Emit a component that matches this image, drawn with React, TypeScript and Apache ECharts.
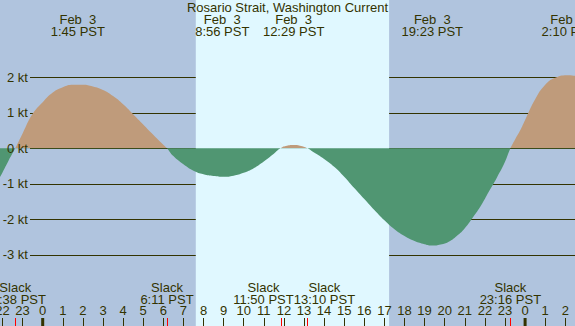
import React, { useEffect, useRef } from "react";
import * as echarts from "echarts";

// ---- data ----
const title = "Rosario Strait, Washington Current";

// hours relative to Feb 3 00:00 PST, current speed in knots (+ flood, - ebb)
const hours = [
  -2.2, -2.0, -1.7, -1.37, -1.0, -0.5, 0.0, 0.5, 1.0, 1.5, 2.0, 2.5, 3.0, 3.5,
  4.0, 4.5, 5.0, 5.5, 6.0, 6.18, 6.5, 7.0, 7.5, 8.0, 8.5, 9.0, 9.5, 10.0, 10.5,
  11.0, 11.5, 11.83, 12.15, 12.48, 12.8, 13.17, 13.5, 14.0, 14.5, 15.0, 15.5,
  16.0, 16.5, 17.0, 17.5, 18.0, 18.5, 19.0, 19.38, 19.8, 20.2, 20.6, 21.0, 21.4,
  21.8, 22.2, 22.6, 23.0, 23.27, 23.5, 23.75, 24.0, 24.5, 25.0, 25.5, 26.17, 26.6,
];
const speeds = [
  -0.88, -0.68, -0.35, 0.0, 0.42, 0.97, 1.3, 1.57, 1.72, 1.79, 1.79, 1.74, 1.64,
  1.47, 1.24, 0.96, 0.67, 0.38, 0.1, 0.0, -0.22, -0.45, -0.63, -0.73, -0.78,
  -0.8, -0.77, -0.69, -0.56, -0.37, -0.15, 0.0, 0.07, 0.09, 0.07, 0.0, -0.12,
  -0.3, -0.52, -0.8, -1.12, -1.43, -1.74, -2.03, -2.28, -2.47, -2.61, -2.7,
  -2.74, -2.71, -2.63, -2.47, -2.25, -1.95, -1.62, -1.22, -0.82, -0.38, 0.0,
  0.25, 0.5, 0.8, 1.38, 1.79, 1.99, 2.06, 2.03,
];

// max / min current events (top labels)
const eventDays = [0, 0, 0, 0, 1];
const eventTimes = ["1:45", "8:56", "12:29", "19:23", "2:10"];
const eventDates = ["Feb  3", "Feb  3", "Feb  3", "Feb  3", "Feb  4"];

// slack water events (bottom labels)
const slackDays = [-1, 0, 0, 0, 0];
const slackTimes = ["22:38", "6:11", "11:50", "13:10", "23:16"];

// daylight (sunrise / sunset) and midnights
const sunriseTime = "7:37";
const sunsetTime = "17:14";
const midnights = [0, 24];

const kMin = -3;
const kMax = 2;
const hourMin = -3;
const hourMax = 27;

// ---- styles ----
const NIGHT = "#b0c4de";
const DAY = "#e0f8ff";
const BROWN = "#bf9b7b";
const GREEN = "#509672";
const INK = "#333300";
const FONT = "Liberation Sans";
const FS = 13;

const toHours = (t: string, day = 0) => {
  const [h, m] = t.split(":").map(Number);
  return day * 24 + h + m / 60;
};

const measure = (() => {
  const c = document.createElement("canvas").getContext("2d")!;
  c.font = `${FS}px "${FONT}"`;
  return (s: string) => c.measureText(s).width;
})();

// push apart label centres so that neighbouring labels do not overlap
const spread = (centres: number[], widths: number[]) => {
  const out = centres.slice();
  for (let pass = 0; pass < 5; pass++) {
    for (let i = 0; i + 1 < out.length; i++) {
      const need = (widths[i] + widths[i + 1]) / 2;
      const gap = out[i + 1] - out[i];
      if (gap < need) {
        const d = (need - gap) / 2;
        out[i] -= d;
        out[i + 1] += d;
      }
    }
  }
  return out;
};

export default function App() {
  const ref = useRef<HTMLDivElement>(null);
  useEffect(() => {
    document.body.style.margin = "0";
    const chart = echarts.init(ref.current!, null, { renderer: "svg" });
    const gL = -17.6;
    const gR = -10.4;
    const pTop = 77.3;
    const pBot = 71.2;
    const hiddenX = (gi: number) => ({
      type: "value",
      gridIndex: gi,
      min: hourMin,
      max: hourMax,
      show: false,
    });
    const gridBase = { outerBoundsMode: "none", containLabel: false };
    chart.setOption({
      animation: false,
      backgroundColor: NIGHT,
      grid: [
        { ...gridBase, left: gL, right: gR, top: 0, bottom: 0 },
        { ...gridBase, left: gL, right: gR, top: pTop, bottom: pBot },
        { ...gridBase, left: 30, right: 0, top: pTop, bottom: pBot },
        { ...gridBase, left: 30, right: 0, top: pTop, bottom: pBot },
      ],
      xAxis: [
        {
          type: "value",
          gridIndex: 0,
          min: hourMin,
          max: hourMax,
          interval: 1,
          z: 3,
          axisLine: { show: false },
          splitLine: { show: false },
          axisTick: { show: true, inside: true, length: 8, lineStyle: { color: INK, width: 1 } },
          axisLabel: {
            inside: true,
            margin: 9,
            interval: 0,
            hideOverlap: false,
            color: INK,
            fontSize: FS,
            fontFamily: FONT,
            formatter: (v: number) => String(((v % 24) + 24) % 24),
          },
        },
        hiddenX(1),
        hiddenX(2),
        hiddenX(3),
      ],
      yAxis: [
        { type: "value", gridIndex: 0, min: 0, max: 1, show: false },
        { type: "value", gridIndex: 1, min: kMin, max: kMax, show: false },
        {
          type: "value",
          gridIndex: 2,
          min: kMin,
          max: kMax,
          interval: 1,
          z: 1,
          axisLine: { show: false },
          axisTick: { show: false },
          axisLabel: { show: false },
          splitLine: { show: true, lineStyle: { color: INK, width: 1 } },
        },
        {
          type: "value",
          gridIndex: 3,
          min: kMin,
          max: kMax,
          interval: 1,
          z: 5,
          axisLine: { show: false },
          axisTick: { show: false },
          splitLine: { show: false },
          axisLabel: {
            margin: 2,
            color: INK,
            fontSize: FS,
            fontFamily: FONT,
            formatter: (v: number) => `${v} kt`,
          },
        },
      ],
      visualMap: {
        type: "piecewise",
        show: false,
        dimension: 1,
        seriesIndex: 1,
        pieces: [
          { gte: -10, lt: 0, color: GREEN },
          { gte: 0, lte: 10, color: BROWN },
        ],
      },
      series: [
        {
          type: "line",
          xAxisIndex: 0,
          yAxisIndex: 0,
          z: 0,
          silent: true,
          showSymbol: false,
          lineStyle: { opacity: 0 },
          data: [
            [toHours(sunriseTime), 0.5],
            [toHours(sunsetTime), 0.5],
          ],
          markArea: {
            silent: true,
            itemStyle: { color: DAY, opacity: 1 },
            data: [[{ xAxis: toHours(sunriseTime) }, { xAxis: toHours(sunsetTime) }]],
          },
        },
        {
          type: "line",
          xAxisIndex: 1,
          yAxisIndex: 1,
          z: 2,
          smooth: true,
          clip: false,
          silent: true,
          showSymbol: false,
          lineStyle: { width: 0 },
          areaStyle: { opacity: 1 },
          data: hours.map((h, i) => [h, speeds[i]]),
        },
      ],
    });

    const px = (t: number) => chart.convertToPixel({ xAxisIndex: 0 }, t) as number;
    const txt = (text: string, x: number, y: number) => ({
      type: "text",
      z: 10,
      silent: true,
      x,
      y,
      style: {
        text,
        fill: INK,
        fontSize: FS,
        fontFamily: FONT,
        align: "center",
        verticalAlign: "middle",
      },
    });
    const g: any[] = [];
    g.push(txt(title, 287.5, 7.5));

    const evX = eventTimes.map((t, i) => px(toHours(t, eventDays[i])));
    const evW = eventTimes.map((t, i) =>
      Math.max(measure(`${t} PST`), measure(eventDates[i]))
    );
    const evC = spread(evX, evW);
    eventTimes.forEach((t, i) => {
      g.push(txt(eventDates[i], evC[i], 19.5));
      g.push(txt(`${t} PST`, evC[i], 31.5));
    });

    const slX = slackTimes.map((t, i) => px(toHours(t, slackDays[i])));
    const slW = slackTimes.map((t) => measure(`${t} PST`));
    const slC = spread(slX, slW);
    slackTimes.forEach((t, i) => {
      g.push(txt("Slack", slC[i], 287.5));
      g.push(txt(`${t} PST`, slC[i], 299.5));
      const xc = Math.round(slX[i]) + 0.5;
      g.push({
        type: "line",
        z: 10,
        silent: true,
        shape: { x1: xc, y1: 318, x2: xc, y2: 326 },
        style: { stroke: "#ff0000", lineWidth: 1 },
      });
    });
    midnights.forEach((m) => {
      const x = px(m);
      g.push({
        type: "rect",
        z: 10,
        silent: true,
        shape: { x: x - 1.5, y: 318, width: 3, height: 8 },
        style: { fill: INK },
      });
    });
    chart.setOption({ graphic: g });
    return () => chart.dispose();
  }, []);
  return <div ref={ref} style={{ width: 575, height: 326 }} />;
}
